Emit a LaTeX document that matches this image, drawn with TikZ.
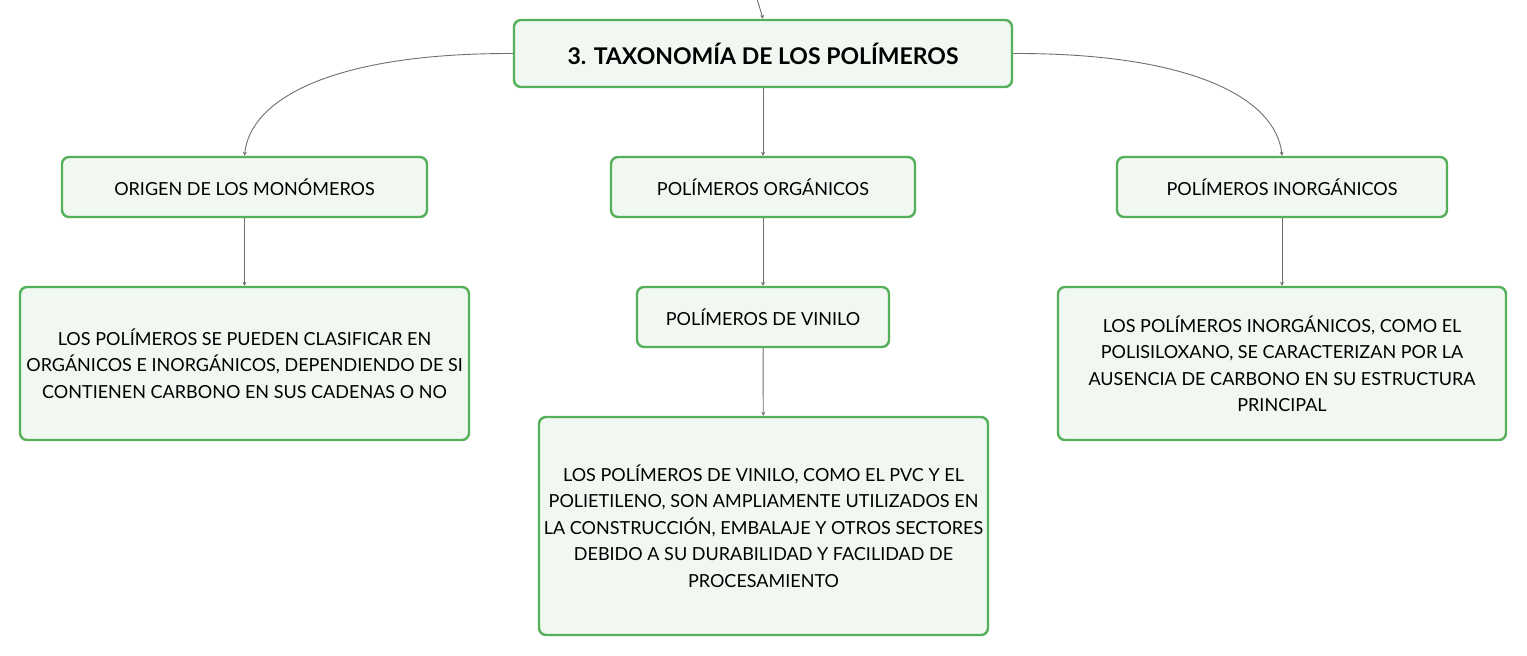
\documentclass[tikz,border=0pt]{standalone}
\usepackage{fontspec}
\setmainfont{Lato}
\usetikzlibrary{arrows.meta}
\definecolor{boxfill}{HTML}{F1F8F2}
\definecolor{boxline}{HTML}{55B05A}
\definecolor{linkc}{HTML}{6E6E6E}
\begin{document}
\begin{tikzpicture}[x=1pt,y=-1pt,
  box/.style={draw=boxline,fill=boxfill,line width=2.4pt,rounded corners=7pt,
    align=center,inner sep=0pt,font=\fontsize{18}{26.5}\selectfont},
  link/.style={draw=linkc,line width=0.9pt,-{Stealth[length=4pt,width=4pt]}}]
\useasboundingbox (0,0) rectangle (1527,656);
\node[box,minimum width=498pt,minimum height=67pt,font=\fontsize{23}{26}\selectfont\bfseries] (root) at (763,53.5) {3. TAXONOMÍA DE LOS POLÍMEROS};
\node[box,minimum width=365pt,minimum height=60pt] (orig) at (244.5,187) {ORIGEN DE LOS MONÓMEROS};
\node[box,minimum width=304pt,minimum height=60pt] (org) at (763,187) {POLÍMEROS ORGÁNICOS};
\node[box,minimum width=330pt,minimum height=60pt] (inorg) at (1282,187) {POLÍMEROS INORGÁNICOS};
\node[box,minimum width=449pt,minimum height=153pt] (origd) at (244.5,363.5) {LOS POLÍMEROS SE PUEDEN CLASIFICAR EN\\ORGÁNICOS E INORGÁNICOS, DEPENDIENDO DE SI\\CONTIENEN CARBONO EN SUS CADENAS O NO};
\node[box,minimum width=252pt,minimum height=60pt] (vin) at (763,317) {POLÍMEROS DE VINILO};
\node[box,minimum width=449pt,minimum height=218pt] (vind) at (763.5,526) {LOS POLÍMEROS DE VINILO, COMO EL PVC Y EL\\POLIETILENO, SON AMPLIAMENTE UTILIZADOS EN\\LA CONSTRUCCIÓN, EMBALAJE Y OTROS SECTORES\\DEBIDO A SU DURABILIDAD Y FACILIDAD DE\\PROCESAMIENTO};
\node[box,minimum width=448pt,minimum height=153pt] (inorgd) at (1282,363.5) {LOS POLÍMEROS INORGÁNICOS, COMO EL\\POLISILOXANO, SE CARACTERIZAN POR LA\\AUSENCIA DE CARBONO EN SU ESTRUCTURA\\PRINCIPAL};
\coordinate (top) at (757,-1);
\draw[link] (top) .. controls (760,8) .. (root.north);
\draw[link] (root.west) .. controls (330,53) and (250,100) .. (orig.north);
\draw[link] (root.east) .. controls (1196,53) and (1276,100) .. (inorg.north);
\draw[link] (root) -- (org);
\draw[link] (orig) -- (origd);
\draw[link] (org) -- (vin);
\draw[link] (vin) -- (vind);
\draw[link] (inorg) -- (inorgd);
\end{tikzpicture}
\end{document}
